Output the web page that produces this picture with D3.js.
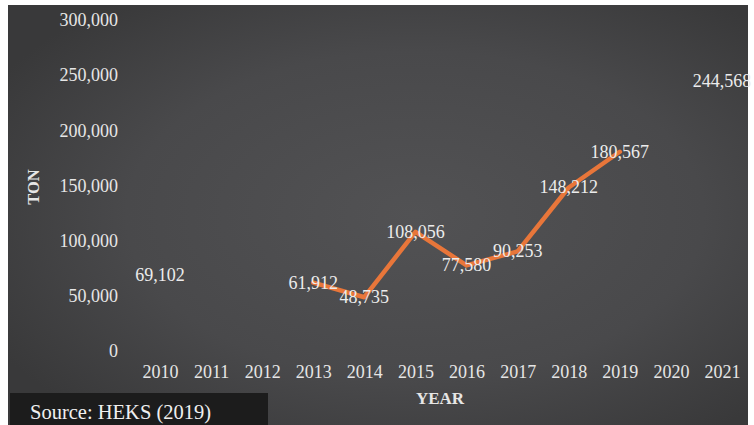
<!DOCTYPE html>
<html><head><meta charset="utf-8">
<script src="https://cdn.jsdelivr.net/npm/d3@7/dist/d3.min.js"></script>
<style>body{margin:0;background:#fff}svg{display:block}</style>
</head><body>
<script>
const years = [2010,2011,2012,2013,2014,2015,2016,2017,2018,2019,2020,2021];
const tons = [69102,null,null,61912,48735,108056,77580,90253,148212,180567,null,244568];
const yTicks = [0,50000,100000,150000,200000,250000,300000];
const yTitle = "TON", xTitle = "YEAR", source = "Source: HEKS (2019)";

const W = 754, H = 425;
const svg = d3.select("body").append("svg").attr("width", W).attr("height", H);
const defs = svg.append("defs");
const g1 = defs.append("radialGradient").attr("id","bg").attr("cx","55%").attr("cy","50%").attr("r","65%");
g1.append("stop").attr("offset","0%").attr("stop-color","#525254");
g1.append("stop").attr("offset","60%").attr("stop-color","#49494b");
g1.append("stop").attr("offset","100%").attr("stop-color","#39393a");
svg.append("rect").attr("x",8).attr("y",5).attr("width",740).attr("height",H-5).attr("fill","url(#bg)");

const x = d3.scalePoint().domain(years).range([160, 722]);
const y = d3.scaleLinear().domain([0,300000]).range([351, 20]);
const font = "'Liberation Serif', 'Times New Roman', serif";
const txt = "#e6e6e6";
const fs = 18;

// y axis labels
const yAxis = d3.axisLeft(y).tickValues(yTicks).tickSize(0).tickPadding(0)
  .tickFormat(d3.format(","));
const ya = svg.append("g").attr("transform","translate(118,0)").call(yAxis);
ya.select(".domain").remove();
ya.selectAll("text").attr("font-family",font).attr("font-size",fs).attr("fill",txt);

// x axis labels
const xAxis = d3.axisBottom(x).tickSize(0).tickPadding(0);
const xa = svg.append("g").attr("transform","translate(0,365)").call(xAxis);
xa.select(".domain").remove();
xa.selectAll("text").attr("font-family",font).attr("font-size",fs).attr("fill",txt);

// titles
svg.append("text").attr("transform","translate(39,187) rotate(-90)").attr("text-anchor","middle")
  .attr("font-family",font).attr("font-size",16.5).attr("font-weight","bold").attr("fill",txt).text(yTitle);
svg.append("text").attr("x",440).attr("y",404).attr("text-anchor","middle")
  .attr("font-family",font).attr("font-size",17).attr("font-weight","bold").attr("fill",txt).text(xTitle);

// line (only connected runs)
const data = years.map((yr,i)=>({yr, v:tons[i]}));
const connected = (d,i) => d.v!=null && ((i>0 && tons[i-1]!=null) || (i<tons.length-1 && tons[i+1]!=null));
const line = d3.line().defined(connected).x(d=>x(d.yr)).y(d=>y(d.v));
svg.append("path").datum(data).attr("d",line).attr("fill","none")
  .attr("stroke","#e8763a").attr("stroke-width",4.5).attr("stroke-linejoin","round").attr("stroke-linecap","round");

// data labels
svg.append("g").selectAll("text").data(data.filter(d=>d.v!=null)).join("text")
  .attr("x",d=>x(d.yr)).attr("y",d=>y(d.v)+6).attr("text-anchor","middle")
  .attr("font-family",font).attr("font-size",fs).attr("fill","#ececec")
  .text(d=>d3.format(",")(d.v));

// source box
svg.append("rect").attr("x",10).attr("y",393).attr("width",258).attr("height",32).attr("fill","#1c1c1c");
svg.append("text").attr("x",30).attr("y",419).attr("font-family",font).attr("font-size",20.5)
  .attr("fill","#f0f0f0").text(source);
</script>
</body></html>
